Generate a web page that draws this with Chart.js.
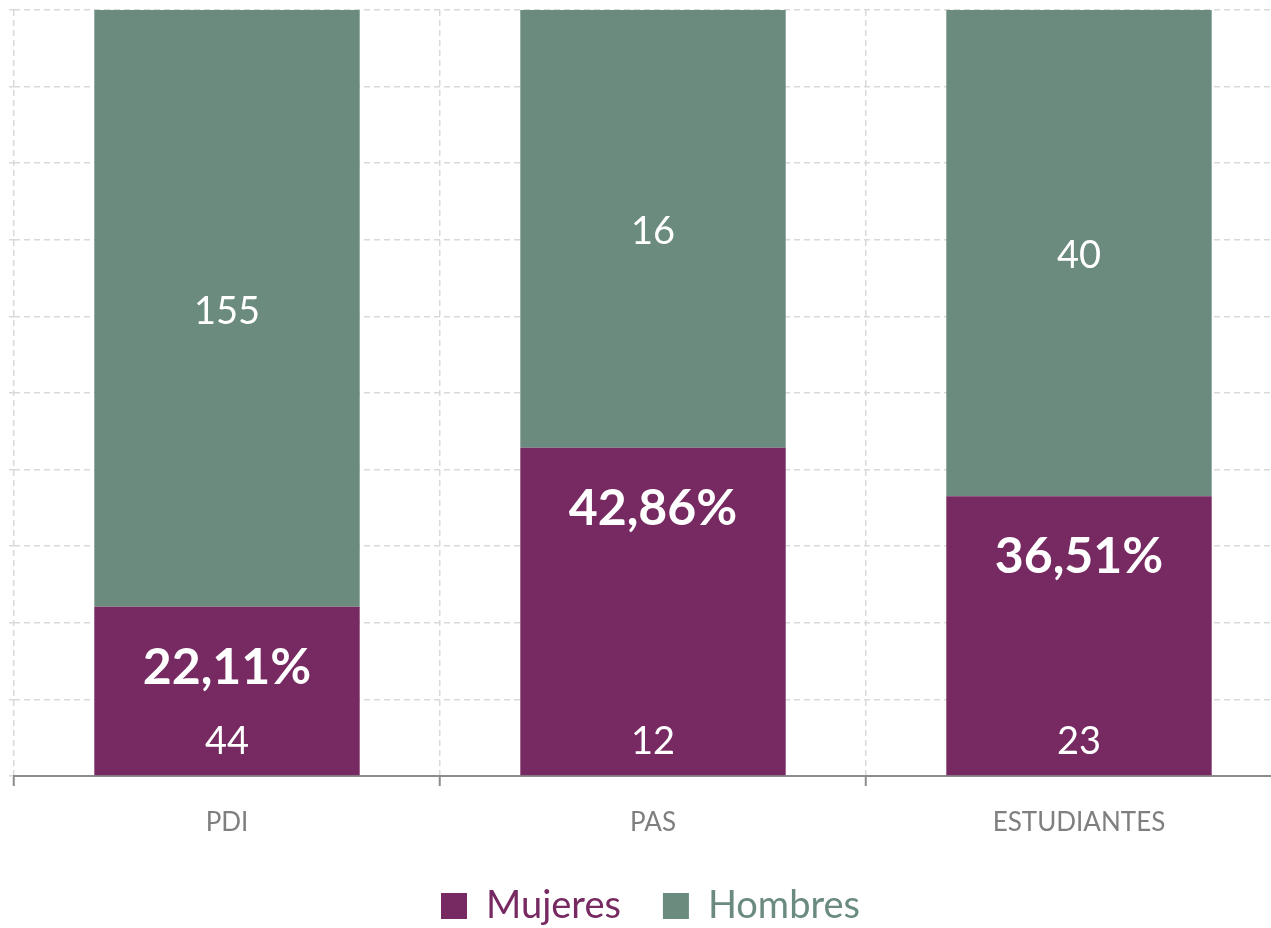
<!DOCTYPE html>
<html>
<head>
<meta charset="utf-8">
<script src="https://cdn.jsdelivr.net/npm/chart.js@4.4.1/dist/chart.umd.min.js"></script>
<style>
  html, body { margin: 0; padding: 0; background: #fff; overflow: hidden; }
  #wrap { width: 1292px; height: 935px; }
</style>
</head>
<body>
<div id="wrap"><canvas id="chart"></canvas></div>
<script>
const categories = ['PDI', 'PAS', 'ESTUDIANTES'];
const mujeres = [44, 12, 23];
const hombres = [155, 16, 40];
const yTicks = [0, 10, 20, 30, 40, 50, 60, 70, 80, 90, 100];

const purple = '#772961';
const green = '#6a8b7e';

const totals = mujeres.map((m, i) => m + hombres[i]);
const mujeresPct = mujeres.map((m, i) => m / totals[i] * 100);
const hombresPct = hombres.map((h, i) => h / totals[i] * 100);

const labelsPlugin = {
  id: 'barLabels',
  afterDatasetsDraw(chart) {
    const ctx = chart.ctx;
    ctx.save();
    ctx.fillStyle = '#ffffff';
    ctx.textAlign = 'center';
    ctx.textBaseline = 'middle';
    const mMeta = chart.getDatasetMeta(0);
    const hMeta = chart.getDatasetMeta(1);
    mMeta.data.forEach((bar, i) => {
      ctx.font = '38px Lato';
      ctx.fillText(String(mujeres[i]), bar.x, bar.base - 34);
      ctx.font = 'bold 50px Lato';
      const pct = (mujeres[i] / totals[i] * 100).toFixed(2).replace('.', ',') + '%';
      ctx.fillText(pct, bar.x, bar.y + 61);
    });
    hMeta.data.forEach((bar, i) => {
      ctx.font = '38px Lato';
      ctx.fillText(String(hombres[i]), bar.x, (bar.y + bar.base) / 2 + 3);
    });
    ctx.restore();
  }
};

new Chart(document.getElementById('chart').getContext('2d'), {
  type: 'bar',
  data: {
    labels: categories,
    datasets: [
      { label: 'Mujeres', data: mujeresPct, backgroundColor: purple,
        categoryPercentage: 1, barPercentage: 0.623 },
      { label: 'Hombres', data: hombresPct, backgroundColor: green,
        categoryPercentage: 1, barPercentage: 0.623 }
    ]
  },
  options: {
    responsive: true,
    maintainAspectRatio: false,
    animation: false,
    layout: { padding: { left: 9, top: 10, right: 0, bottom: 0 } },
    scales: {
      x: {
        stacked: true,
        afterFit(scale) { scale.height -= 15; },
        border: { color: '#8c8c8c', width: 2, dash: [6, 4] },
        grid: {
          color: '#d9d9d9', lineWidth: 1.5,
          tickColor: '#8c8c8c', tickLength: 10, tickBorderDash: [], tickWidth: 2
        },
        ticks: { color: '#7f7f7f', font: { family: 'Lato', size: 26, lineHeight: 1 }, padding: 24 }
      },
      y: {
        stacked: true,
        min: 0, max: 100,
        afterBuildTicks(axis) { axis.ticks = yTicks.map(v => ({ value: v })); },
        border: { display: false, dash: [6, 4] },
        grid: { color: '#d9d9d9', lineWidth: 1.5, tickLength: 5 },
        ticks: { display: false }
      }
    },
    plugins: {
      tooltip: { enabled: false },
      legend: {
        position: 'bottom',
        labels: {
          boxWidth: 26, boxHeight: 26, padding: 42,
          font: { family: 'Lato', size: 38 },
          generateLabels(chart) {
            return chart.data.datasets.map((ds, i) => ({
              text: ds.label,
              fillStyle: ds.backgroundColor,
              strokeStyle: ds.backgroundColor,
              lineWidth: 0,
              fontColor: ds.backgroundColor,
              datasetIndex: i
            }));
          }
        }
      }
    }
  },
  plugins: [labelsPlugin]
});
</script>
</body>
</html>
